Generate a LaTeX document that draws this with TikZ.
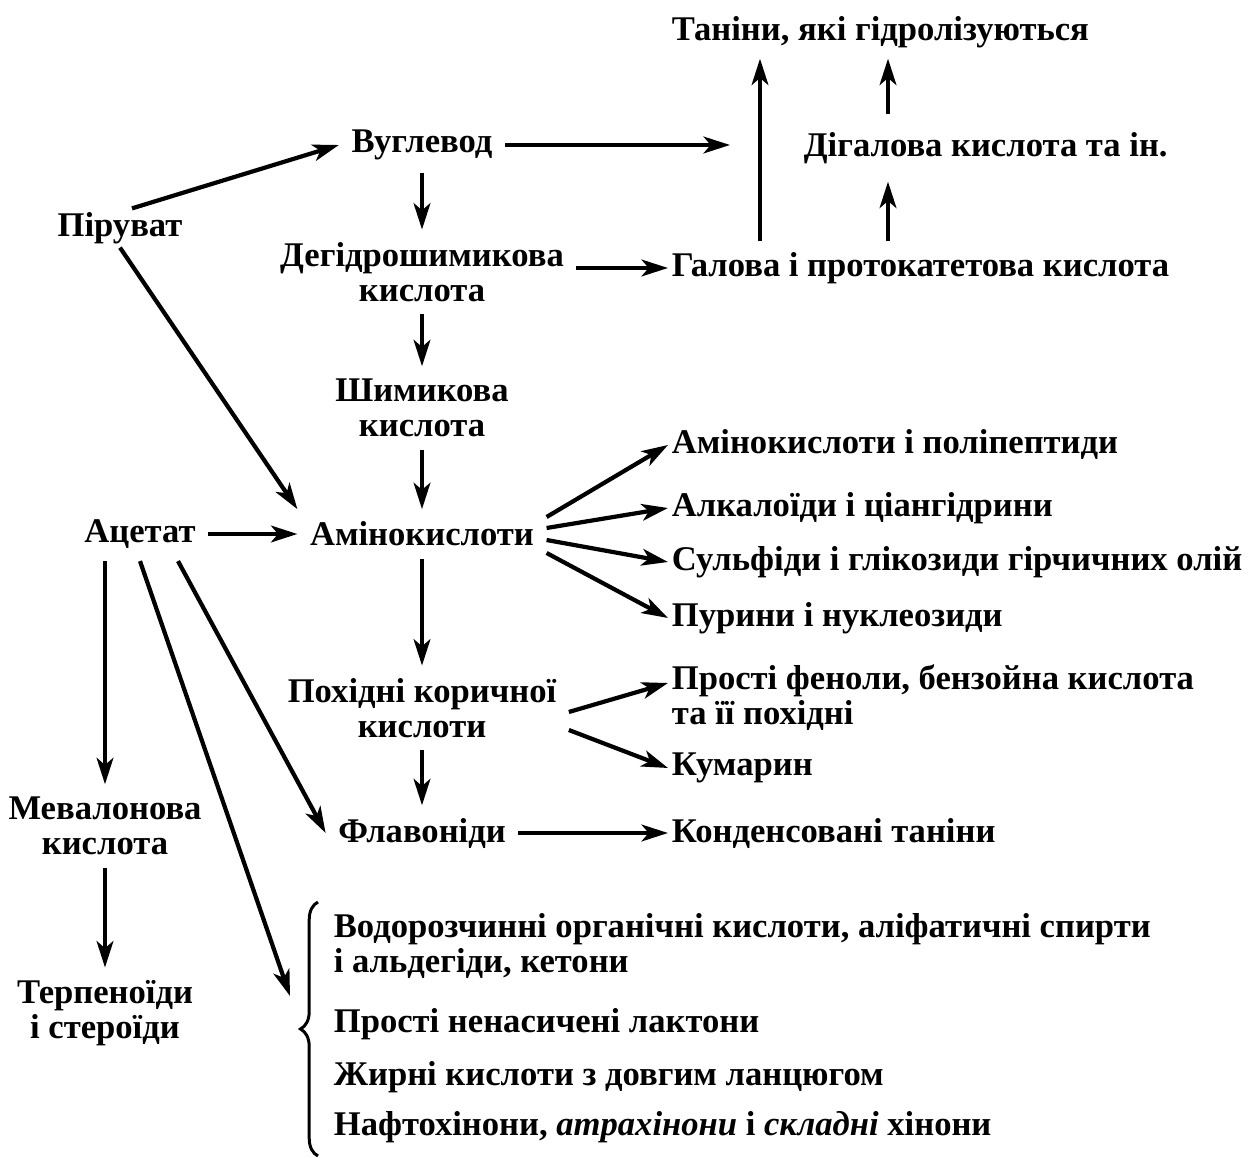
\documentclass[tikz,border=0pt]{standalone}
\usepackage{fontspec}
\setmainfont{Liberation Serif}
\usepackage{tikz}
\usetikzlibrary{calc,arrows.meta,decorations.pathreplacing,positioning}

\begin{document}
\begin{tikzpicture}[x=0.02cm,y=-0.02cm,
    txt/.style={font=\fontsize{19.7}{20}\selectfont\bfseries,inner sep=2pt},
    mid/.style={txt,align=center,inner sep=7pt},
    lft/.style={txt,anchor=west,align=left},
    arr/.style={-{Stealth[length=15pt,width=9.5pt,inset=4pt]},line width=2.4pt}]

    \useasboundingbox (0,0) rectangle (1254,1158);

    % top block
    \node (tan) at (668,32) [lft,inner ysep=6pt] {Таніни, які гідролізуються};
    \node (vug) at (422,145) [mid] {Вуглевод};
    \node (dig) at (800,148) [lft,inner ysep=10pt] {Дігалова кислота та ін.};
    \node (pir) at (120,228) [mid,inner sep=2pt] {Піруват};
    \node (deg) at (422,272) [mid] {Дегідрошимикова\\кислота};
    \node (gal) at (668,268) [lft,inner ysep=6pt] {Галова і протокатетова кислота};
    \node (shm) at (422,408) [mid] {Шимикова\\кислота};

    \coordinate (vugend) at (730,145);
    \coordinate (trunk) at (760,0);
    \coordinate (riser) at (888,0);

    % middle block
    \node (ace) at (140,534) [mid] {Ацетат};
    \node (amk) at (422,534) [mid] {Амінокислоти};
    \node (ap)  at (668,445) [lft] {Амінокислоти і поліпептиди};
    \node (alk) at (668,508) [lft] {Алкалоїди і ціангідрини};
    \node (sul) at (668,562) [lft] {Сульфіди і глікозиди гірчичних олій};
    \node (pur) at (668,618) [lft] {Пурини і нуклеозиди};
    \node (poh) at (422,708) [mid] {Похідні коричної\\кислоти};
    \node (fen) at (668,698) [lft] {Прості феноли, бензойна кислота\\та її похідні};
    \node (kum) at (668,768) [lft] {Кумарин};
    \node (mev) at (105,826) [mid] {Мевалонова\\кислота};
    \node (fla) at (422,833) [mid] {Флавоніди};
    \node (kon) at (668,833) [lft] {Конденсовані таніни};

    % bottom block
    \node (ter) at (105,1013) [mid] {Терпеноїди\\і стероїди};
    \node (wat) at (330,946) [lft] {Водорозчинні органічні кислоти, аліфатичні спирти\\і альдегіди, кетони};
    \node (lac) at (330,1024) [lft] {Прості ненасичені лактони};
    \node (fat) at (330,1077) [lft] {Жирні кислоти з довгим ланцюгом};
    \node (naf) at (330,1127) [lft] {Нафтохінони, {\itshape атрахінони} і {\itshape складні} хінони};
    \coordinate (brc) at (290,996);

    \draw[line width=1.7pt,decorate,decoration={brace,amplitude=10pt}] (318,1156) -- (318,902);

    % arrows
    \draw[arr] ($(pir.north)+(12,0)$) -- (vug.west);
    \draw[arr] (pir.south) -- (amk.north west);
    \draw[arr] (vug) -- (deg);
    \draw[arr] (vug.east) -- (vugend);
    \draw[arr] (deg.east |- gal) -- (gal.west);
    \draw[arr] (gal.north -| trunk) -- (tan.south -| trunk);
    \draw[arr] (gal.north -| riser) -- (dig.south -| riser);
    \draw[arr] (dig.north -| riser) -- (tan.south -| riser);
    \draw[arr] (deg) -- (shm);
    \draw[arr] (shm) -- (amk);
    \draw[arr] (ace) -- (amk);
    \draw[arr] ($(amk.east)+(0,-17)$) -- (ap.west);
    \draw[arr] ($(amk.east)+(0,-6)$) -- (alk.west);
    \draw[arr] ($(amk.east)+(0,6)$) -- (sul.west);
    \draw[arr] ($(amk.east)+(0,19)$) -- (pur.west);
    \draw[arr] (amk) -- (poh);
    \draw[arr] ($(poh.east)+(0,4)$) -- ($(fen.west)+(0,-15)$);
    \draw[arr] ($(poh.east)+(0,22)$) -- (kum.west);
    \draw[arr] (poh) -- (fla);
    \draw[arr] (fla) -- (kon);
    \draw[arr] (ace.south -| mev) -- (mev);
    \draw[arr] (mev) -- (ter);
    \draw[arr] ($(ace.south)+(38,0)$) -- (fla.west);
    \draw[arr] (ace.south) -- (brc);

\end{tikzpicture}
\end{document}
